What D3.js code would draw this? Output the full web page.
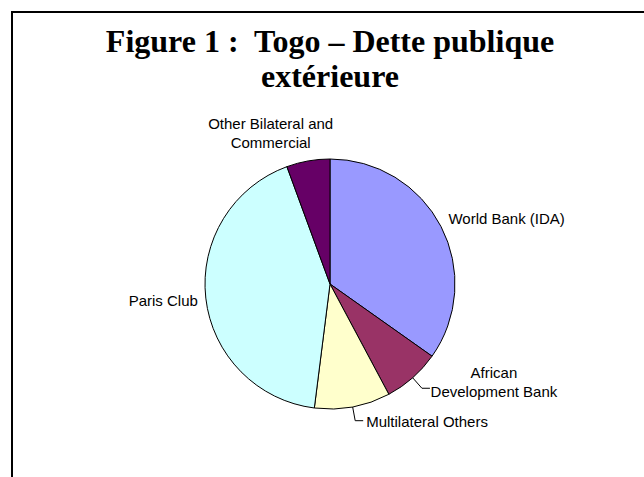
<!DOCTYPE html>
<html>
<head>
<meta charset="utf-8">
<script src="https://cdn.jsdelivr.net/npm/d3@7"></script>
<style>
  body { margin: 0; background: #fff; }
  svg { display: block; }
</style>
</head>
<body>
<script>
const width = 644;
const height = 477;

// data (share of external public debt, %)
const categories = ['World Bank (IDA)', 'African Development Bank', 'Multilateral Others', 'Paris Club', 'Other Bilateral and Commercial'];
const values = [34.8, 7.4, 9.8, 42.4, 5.6];
const labelLines = [
    ['World Bank (IDA)'],
    ['African', 'Development Bank'],
    ['Multilateral Others'],
    ['Paris Club'],
    ['Other Bilateral and', 'Commercial']
];
const colors = ['#9999FF', '#993366', '#FFFFCC', '#CCFFFF', '#660066'];

// label nudges relative to the point just outside each slice
const labelLayout = [
    { dx: -5, dy: 4, anchor: 'start', leader: false },
    { dx: 72, dy: -10, anchor: 'middle', leader: true },
    { dx: 11, dy: 6, anchor: 'start', leader: true },
    { dx: 6, dy: 6.5, anchor: 'end', leader: false },
    { dx: -35, dy: -18, anchor: 'middle', leader: false }
];

const cx = 330, cy = 284, radius = 125;

const svg = d3.select('body').append('svg')
    .attr('width', width)
    .attr('height', height);

// frame (runs off the right and bottom of the picture)
svg.append('rect')
    .attr('x', 12)
    .attr('y', 12)
    .attr('width', 800)
    .attr('height', 800)
    .style('fill', 'none')
    .style('stroke', '#000')
    .style('stroke-width', 2);

const title = svg.append('text')
    .attr('x', cx)
    .attr('text-anchor', 'middle')
    .style('font-family', '"Liberation Serif", "Times New Roman", serif')
    .style('font-weight', 'bold')
    .style('font-size', '32px')
    .style('white-space', 'pre');
title.append('tspan').attr('x', cx).attr('y', 52).text('Figure 1 :  Togo \u2013 Dette publique');
title.append('tspan').attr('x', cx).attr('y', 87).text('extérieure');

const data = categories.map((c, i) => ({ name: c, value: values[i], lines: labelLines[i], color: colors[i], lay: labelLayout[i] }));

const pie = d3.pie()
    .value(d => d.value)
    .sort(null);

const arc = d3.arc()
    .innerRadius(0)
    .outerRadius(radius);

const arcs = pie(data);

const g = svg.append('g')
    .attr('transform', 'translate(' + cx + ',' + cy + ')');

g.selectAll('path')
    .data(arcs)
    .join('path')
    .attr('d', arc)
    .style('fill', d => d.data.color)
    .style('stroke', '#000')
    .style('stroke-width', 1)
    .style('stroke-linejoin', 'round');

const pointAt = (a, r) => {
    const mid = (a.startAngle + a.endAngle) / 2;
    return [r * Math.sin(mid), -r * Math.cos(mid)];
};

// leader lines
arcs.filter(a => a.data.lay.leader).forEach(a => {
    const p0 = pointAt(a, radius);
    const p1 = pointAt(a, radius + 14);
    g.append('polyline')
        .attr('points', [p0, p1, [p1[0] + 8, p1[1]]].map(p => p.join(',')).join(' '))
        .style('fill', 'none')
        .style('stroke', '#000')
        .style('stroke-width', 1);
});

// labels
arcs.forEach(a => {
    const p = pointAt(a, radius + 14);
    const lay = a.data.lay;
    const t = g.append('text')
        .attr('text-anchor', lay.anchor)
        .style('font-family', '"Liberation Sans", Arial, sans-serif')
        .style('font-size', '15px')
        .style('fill', '#000');
    a.data.lines.forEach((line, i) => {
        t.append('tspan')
            .attr('x', p[0] + lay.dx)
            .attr('y', p[1] + lay.dy + i * 19)
            .text(line);
    });
});
</script>
</body>
</html>
